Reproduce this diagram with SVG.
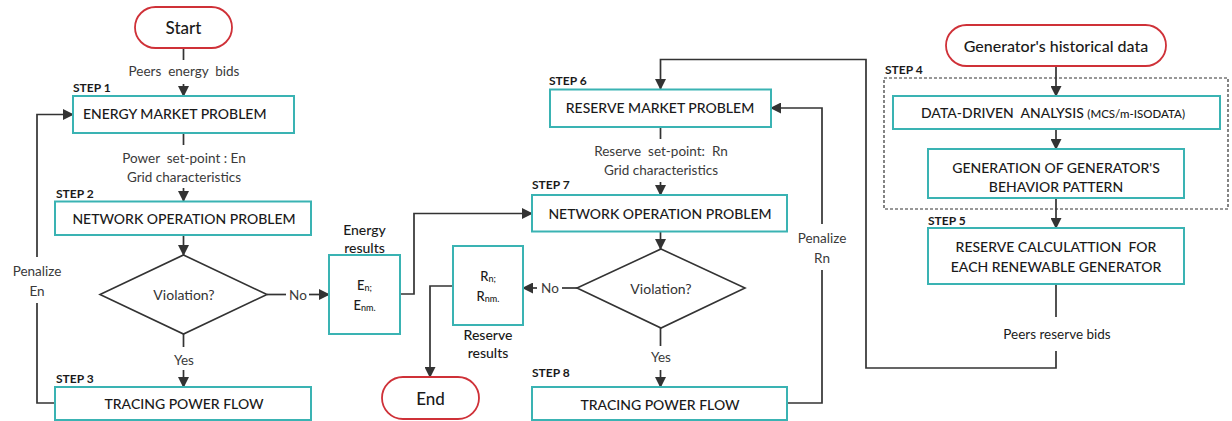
<svg xmlns="http://www.w3.org/2000/svg" width="1232" height="421" viewBox="0 0 1232 421">
<style>
text{font-family:Lato,"Open Sans","Liberation Sans",sans-serif;fill:#1a1a1a;white-space:pre}
.box{fill:#fff;stroke:#3ab3b3;stroke-width:2}
.pill{fill:#fff;stroke:#cf3138;stroke-width:1.8}
.dia{fill:#fff;stroke:#333;stroke-width:1.6}
.t{font-size:14px;font-weight:500;text-anchor:middle}
.lbl{font-size:13.5px;fill:#3a3a3a;text-anchor:middle}
.step{font-size:12px;font-weight:700}
.term{font-size:17px;font-weight:500;text-anchor:middle}
.con{fill:none;stroke:#333;stroke-width:1.7}
.arr{marker-end:url(#ah)}
.dash{fill:none;stroke:#333;stroke-width:1.2;stroke-dasharray:3 2}
</style>
<defs>
<marker id="ah" markerUnits="userSpaceOnUse" markerWidth="11" markerHeight="11" refX="10" refY="5.5" orient="auto">
<path d="M0,0 L11,5.5 L0,11 Z" fill="#333"/>
</marker>
</defs>

<g id="connectors">
<path class="con" d="M183.5,48 V60"/>
<path class="con arr" d="M183.5,84 V96"/>
<path class="con" d="M183.5,133 V145"/>
<path class="con arr" d="M183.5,188 V201"/>
<path class="con arr" d="M183.5,235 V255"/>
<path class="con" d="M183.5,334 V347"/>
<path class="con arr" d="M183.5,370 V387"/>
<path class="con" d="M55,403 H37 V303"/>
<path class="con arr" d="M37,257 V114.5 H73"/>
<path class="con" d="M267,294.5 H286"/>
<path class="con arr" d="M309,294.5 H329"/>
<path class="con arr" d="M400,294 H414 V213.5 H532"/>
<path class="con" d="M660.5,127 V139"/>
<path class="con arr" d="M660.5,182 V195"/>
<path class="con arr" d="M660.5,232 V249"/>
<path class="con" d="M660.5,328 V346"/>
<path class="con arr" d="M660.5,370 V387"/>
<path class="con" d="M787,403 H822 V270"/>
<path class="con arr" d="M822,224 V108 H771"/>
<path class="con" d="M577,288 H562"/>
<path class="con arr" d="M537,288 H523"/>
<path class="con arr" d="M453,286 H430 V377"/>
<path class="con arr" d="M1056,66 V96"/>
<path class="con arr" d="M1056,129 V149"/>
<path class="con arr" d="M1056,198 V228"/>
<path class="con" d="M1056,284 V317"/>
<path class="con arr" d="M1056,351 V368 H866 V59.5 H660.5 V89"/>
</g>

<g id="labels">
<text class="lbl" x="184" y="76" xml:space="preserve">Peers  energy  bids</text>
<text class="lbl" x="184" y="163" xml:space="preserve">Power  set-point : En</text>
<text class="lbl" x="184" y="182">Grid characteristics</text>
<text class="lbl" x="184" y="365">Yes</text>
<text class="lbl" x="298" y="299.5">No</text>
<text class="lbl" x="37" y="276">Penalize</text>
<text class="lbl" x="37" y="296">En</text>
<text class="lbl" x="661" y="156" xml:space="preserve">Reserve  set-point:  Rn</text>
<text class="lbl" x="661" y="175">Grid characteristics</text>
<text class="lbl" x="661" y="362">Yes</text>
<text class="lbl" x="550" y="293">No</text>
<text class="lbl" x="822" y="243">Penalize</text>
<text class="lbl" x="822" y="263">Rn</text>
<text class="lbl" x="1057" y="339" style="fill:#1a1a1a">Peers reserve bids</text>
<text class="step" x="73" y="92">STEP 1</text>
<text class="step" x="56" y="198">STEP 2</text>
<text class="step" x="56" y="383">STEP 3</text>
<text class="step" x="885" y="74">STEP 4</text>
<text class="step" x="928" y="225">STEP 5</text>
<text class="step" x="549" y="85">STEP 6</text>
<text class="step" x="532" y="189">STEP 7</text>
<text class="step" x="532" y="377">STEP 8</text>
</g>

<g id="start">
<rect class="pill" x="135" y="7" width="97" height="41" rx="20.5"/>
<text class="term" x="183.5" y="34">Start</text>
</g>
<g id="step1">
<rect class="box" x="73" y="96" width="221" height="37"/>
<text class="t" x="83" y="119" style="text-anchor:start">ENERGY MARKET PROBLEM</text>
</g>
<g id="step2">
<rect class="box" x="55" y="201.5" width="256" height="33.5"/>
<text class="t" x="184" y="223.5">NETWORK OPERATION PROBLEM</text>
</g>
<g id="violation1">
<path class="dia" d="M183.5,255 L267,294.5 L183.5,334 L100,294.5 Z"/>
<text class="t" x="184" y="300" style="font-weight:400;fill:#333">Violation?</text>
</g>
<g id="step3">
<rect class="box" x="55" y="387" width="256" height="33"/>
<text class="t" x="184" y="409">TRACING POWER FLOW</text>
</g>
<g id="energy-results">
<rect class="box" x="329" y="255" width="71" height="79"/>
<text class="t" x="364.5" y="235">Energy</text>
<text class="t" x="364.5" y="253">results</text>
<text class="t" x="364.5" y="290" style="font-size:13px">E<tspan style="font-size:9px" dy="1">n;</tspan></text>
<text class="t" x="364.5" y="310" style="font-size:13px">E<tspan style="font-size:9px" dy="1">nm.</tspan></text>
</g>
<g id="reserve-results">
<rect class="box" x="453" y="246" width="70" height="79"/>
<text class="t" x="488" y="281" style="font-size:13px">R<tspan style="font-size:9px" dy="1">n;</tspan></text>
<text class="t" x="488" y="301" style="font-size:13px">R<tspan style="font-size:9px" dy="1">nm.</tspan></text>
<text class="t" x="488" y="340">Reserve</text>
<text class="t" x="488" y="358">results</text>
</g>
<g id="end">
<rect class="pill" x="382" y="377" width="97" height="42" rx="21"/>
<text class="term" x="430.5" y="405">End</text>
</g>
<g id="step6">
<rect class="box" x="550" y="89.5" width="221" height="37.5"/>
<text class="t" x="660" y="113">RESERVE MARKET PROBLEM</text>
</g>
<g id="step7">
<rect class="box" x="532" y="195" width="255" height="36.5"/>
<text class="t" x="660" y="218.5">NETWORK OPERATION PROBLEM</text>
</g>
<g id="violation2">
<path class="dia" d="M661,249 L745,288 L661,328 L577,288 Z"/>
<text class="t" x="661" y="293.5" style="font-weight:400;fill:#333">Violation?</text>
</g>
<g id="step8">
<rect class="box" x="532" y="387" width="255" height="33"/>
<text class="t" x="660" y="409.5">TRACING POWER FLOW</text>
</g>
<g id="historical-data">
<rect class="pill" x="946" y="25" width="220" height="41" rx="20.5"/>
<text class="term" x="1056" y="51.5" style="font-size:16px">Generator's historical data</text>
</g>
<g id="step4">
<rect class="dash" x="884" y="78" width="344" height="131"/>
<rect class="box" x="893" y="96" width="327" height="33"/>
<text class="t" x="921" y="117.5" style="text-anchor:start" xml:space="preserve">DATA-DRIVEN  ANALYSIS <tspan style="font-size:11.5px">(MCS/m-ISODATA)</tspan></text>
<rect class="box" x="928" y="149" width="256" height="49"/>
<text class="t" x="1056" y="172.5">GENERATION OF GENERATOR'S</text>
<text class="t" x="1056" y="192">BEHAVIOR PATTERN</text>
</g>
<g id="step5">
<rect class="box" x="928" y="228" width="256" height="56"/>
<text class="t" x="1056" y="252" xml:space="preserve">RESERVE CALCULATTION  FOR</text>
<text class="t" x="1056" y="272">EACH RENEWABLE GENERATOR</text>
</g>
</svg>
